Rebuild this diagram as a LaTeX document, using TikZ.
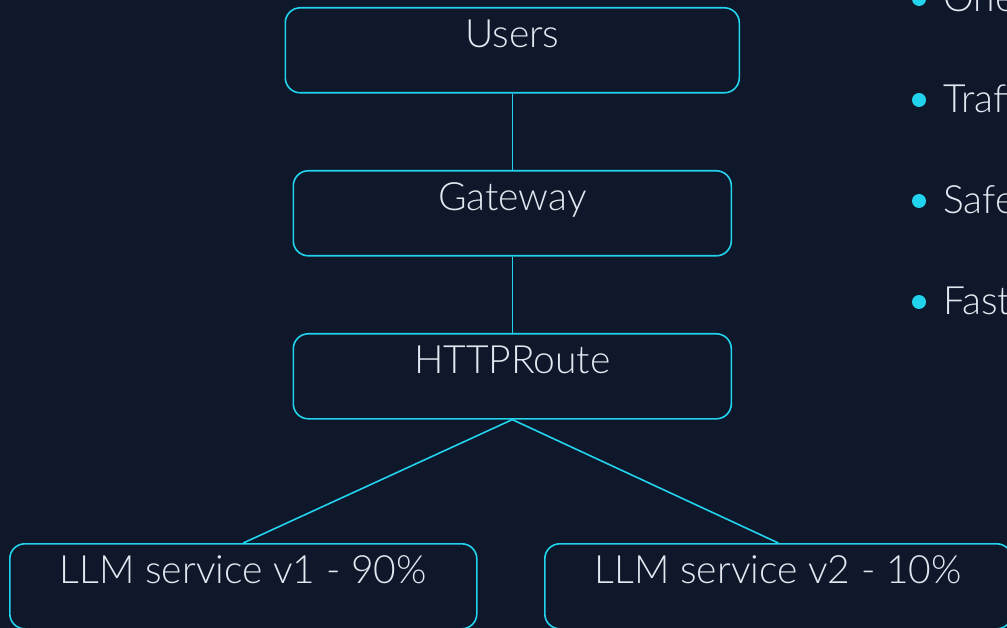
\documentclass[tikz,border=0pt]{standalone}
\usepackage{fontspec}
\setmainfont{Lato}[UprightFont={* Light}]
\definecolor{bgnavy}{HTML}{0F172A}
\definecolor{edgecyan}{HTML}{22D3EE}
\definecolor{labelgray}{HTML}{E2E8F0}
\tikzset{
  box/.style={draw=edgecyan, line width=1.6pt, rounded corners=15pt,
    fill=bgnavy, anchor=north west, inner xsep=0pt, inner ysep=12pt,
    text height=28pt, text depth=33pt, text=labelgray,
    font=\fontsize{39}{47}\selectfont},
  link/.style={draw=edgecyan, line width=1.6pt},
  dot/.style={circle, fill=edgecyan, minimum size=14pt, inner sep=0pt},
  point/.style={anchor=base west, text=labelgray, inner sep=0pt,
    font=\fontsize{39}{47}\selectfont}
}
\begin{document}
\begin{tikzpicture}[x=1pt, y=-1pt]
  \useasboundingbox (0,0) rectangle (1007,628);
  \fill[bgnavy] (0,0) rectangle (1007,628);
  \clip (0,0) rectangle (1007,628);

  % request path
  \node[box, minimum width=454pt] (users) at (284.5,7) {Users};
  \node[box, minimum width=438pt] (gateway) at (292.5,170) {Gateway};
  \node[box, minimum width=438pt] (route) at (292.5,333) {HTTPRoute};

  % weighted backends
  \node[box, minimum width=467pt] (v1) at (9,543) {LLM service v1 - 90\%};
  \node[box, minimum width=467pt] (v2) at (544,543) {LLM service v2 - 10\%};

  \draw[link] (users.south) -- (gateway.north);
  \draw[link] (gateway.south) -- (route.north);
  \draw[link] (route.south) -- (v1.north);
  \draw[link] (route.south) -- (v2.north);

  % key points
  \node[dot] (d1) at (919,-1) {};
  \node[dot] (d2) at (919,100) {};
  \node[dot] (d3) at (919,201) {};
  \node[dot] (d4) at (919,302) {};
  \node[point] (p1) at (943,12) {One gateway};
  \node[point] (p2) at (943,113) {Traffic splitting};
  \node[point] (p3) at (943,214) {Safe rollouts};
  \node[point] (p4) at (943,315) {Fast rollback};
\end{tikzpicture}
\end{document}
